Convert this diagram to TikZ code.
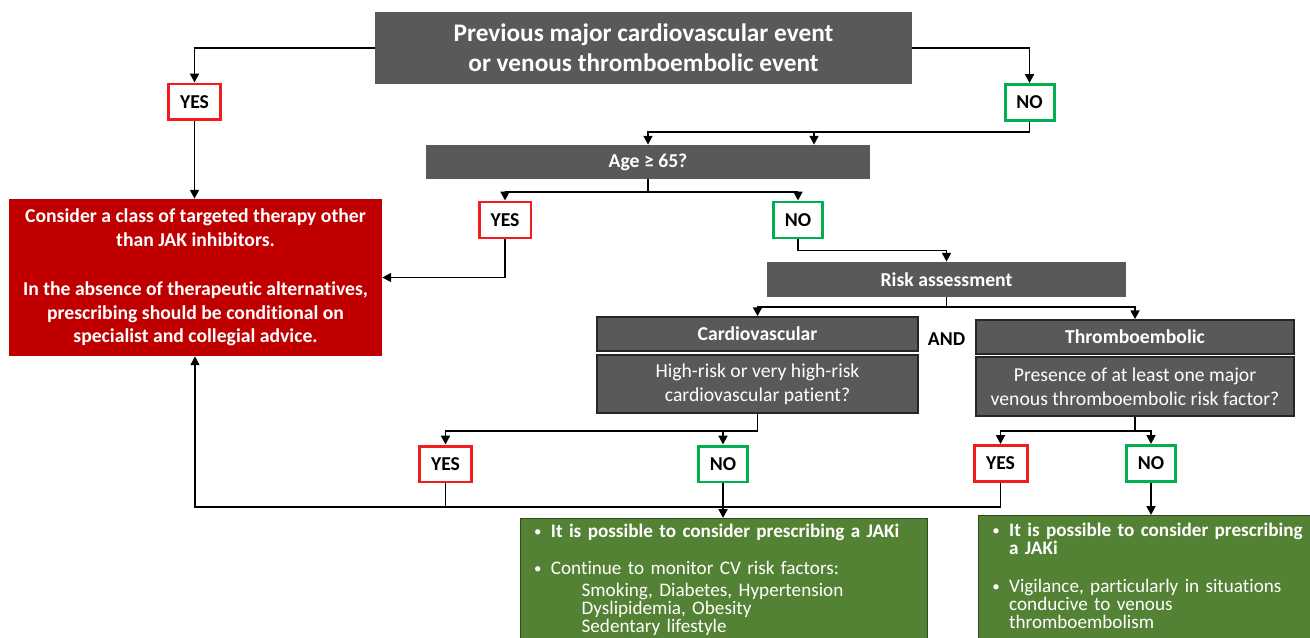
\documentclass[tikz,border=0pt]{standalone}
\usepackage{fontspec}
\setmainfont{Carlito}[Ligatures=NoCommon]
\usetikzlibrary{arrows.meta}
\definecolor{boxgray}{HTML}{595959}
\definecolor{boxline}{HTML}{262626}
\definecolor{jakred}{HTML}{C00000}
\definecolor{okgreen}{HTML}{548235}
\definecolor{okline}{HTML}{2F4A1E}
\definecolor{yesred}{HTML}{F21C1C}
\definecolor{nogreen}{HTML}{00B050}
\newcommand{\bul}{\makebox[9.5pt][l]{\raisebox{0.6pt}{\fontsize{8.5}{8.5}\selectfont\textbullet}}}

\begin{document}
\begin{tikzpicture}[x=0.02cm,y=-0.02cm,
    every node/.style={inner sep=0pt},
    link/.style={draw=black,line width=1.1pt},
    arr/.style={link,-{Triangle[length=5pt,width=5pt]}},
    gbox/.style={fill=boxgray,text=white,align=center,font=\bfseries\fontsize{11.2}{13}\selectfont},
    hbox/.style={gbox,draw=boxline,line width=0.9pt},
    qbox/.style={hbox,font=\fontsize{11.2}{13.6}\selectfont},
    answer/.style={fill=white,line width=1.7pt,minimum height=0.72cm,font=\bfseries\fontsize{11.2}{13}\selectfont},
    yesbox/.style={answer,draw=yesred,minimum width=1.04cm},
    nobox/.style={answer,draw=nogreen,minimum width=0.98cm},
    okbox/.style={fill=okgreen,draw=okline,line width=0.8pt,text=white,anchor=north west,align=left,
      inner xsep=7.5pt,inner ysep=3.3pt,font=\fontsize{10.9}{10.3}\selectfont}]
    \clip (0,0) rectangle (1310,638);
    % first question
    \node[gbox,minimum width=10.74cm,minimum height=1.44cm,font=\bfseries\fontsize{14.4}{17}\selectfont] (prev) at (643.5,48)
        {Previous major cardiovascular event\\or venous thromboembolic event};
    \node[yesbox] (yesprev) at (194.5,102) {YES};
    \node[nobox] (noprev) at (1029.5,102.5) {NO};
    \node[gbox,minimum width=8.88cm,minimum height=0.68cm] (age) at (648,162) {Age ≥ 65?};
    \node[yesbox] (yesage) at (505,220) {YES};
    \node[nobox] (noage) at (798,220) {NO};
    \node[gbox,fill=jakred,minimum width=7.46cm,minimum height=3.14cm,font=\bfseries\fontsize{11.2}{13.4}\selectfont] (jak) at (195.5,277.5)
        {Consider a class of targeted therapy other\\than JAK inhibitors.\\[14.5pt]
         In the absence of therapeutic alternatives,\\prescribing should be conditional on\\specialist and collegial advice.};
    \node[gbox,minimum width=7.18cm,minimum height=0.7cm] (risk) at (946.5,279.5) {Risk assessment};
    % risk assessment
    \node[hbox,minimum width=6.42cm,minimum height=0.68cm] (cvhead) at (757.5,334) {Cardiovascular};
    \node[qbox,minimum width=6.42cm,minimum height=1.16cm] (cvq) at (757.5,384)
        {High-risk or very high-risk\\cardiovascular patient?};
    \node[font=\bfseries\fontsize{11.2}{13}\selectfont] (and) at (946.5,339) {AND};
    \node[hbox,minimum width=6.36cm,minimum height=0.68cm] (tehead) at (1135,337) {Thromboembolic};
    \node[qbox,minimum width=6.36cm,minimum height=1.18cm] (teq) at (1135,386.5)
        {Presence of at least one major\\venous thromboembolic risk factor?};
    \node[yesbox] (yescv) at (445.5,464) {YES};
    \node[nobox] (nocv) at (723,464) {NO};
    \node[yesbox,minimum width=1.06cm] (yeste) at (1000.5,463.5) {YES};
    \node[nobox] (note) at (1151,463.5) {NO};
    % outcomes
    \node[okbox,minimum width=8.14cm,text width=7.6cm] (okcv) at (520,518)
        {\bul\textbf{It is possible to consider prescribing a JAKi}\\[10.4pt]
         \bul Continue to monitor CV risk factors:\\[2.3pt]
         \hspace*{27pt}Smoking, Diabetes, Hypertension\\
         \hspace*{27pt}Dyslipidemia, Obesity\\
         \hspace*{27pt}Sedentary lifestyle\\[10pt]\mbox{}};
    \node[okbox,minimum width=7cm,text width=6.45cm,inner ysep=4.4pt] (okte) at (978,515)
        {\bul\textbf{It is possible to consider prescribing}\\
         \hspace*{9.5pt}\textbf{a JAKi}\\[11pt]
         \bul Vigilance, particularly in situations\\
         \hspace*{9.5pt}conducive to venous\\
         \hspace*{9.5pt}thromboembolism\\[10pt]\mbox{}};
    % connectors
    \coordinate (agejoin) at (648,132);
    \coordinate (agetap) at (814,132);
    \coordinate (backjoin) at (195,507);
    \draw[arr] (prev.west) -| (yesprev.north);
    \draw[arr] (prev.east) -| (noprev.north);
    \draw[arr] (noprev.south) |- (agejoin) -- (age.north);
    \draw[arr] (agetap) -- (agetap |- age.north);
    \draw[arr] (age.south) -- ++(0,13) -| (yesage.north);
    \draw[arr] (age.south) -- ++(0,13) -| (noage.north);
    \draw[arr] (yesprev.south) -- (yesprev.south |- jak.north);
    \draw[arr] (yesage.south) |- (jak.east);
    \draw[arr] (noage.south) -- ++(0,11) -| (risk.north);
    \draw[arr] (risk.south) -- ++(0,10) -| (cvhead.north);
    \draw[arr] (risk.south) -- ++(0,10) -| (tehead.north);
    \draw[arr] (cvq.south) -- ++(0,17) -| (yescv.north);
    \draw[arr] (cvq.south) -- ++(0,17) -| (nocv.north);
    \draw[arr] (teq.south) -- ++(0,14) -| (yeste.north);
    \draw[arr] (teq.south) -- ++(0,14) -| (note.north);
    \draw[link] (yescv.south) -- (yescv.south |- backjoin);
    \draw[arr] (yeste.south) |- (backjoin) -- (backjoin |- jak.south);
    \draw[arr] (nocv.south) -- (nocv.south |- okcv.north);
    \draw[arr] (note.south) -- (note.south |- okte.north);
\end{tikzpicture}
\end{document}
